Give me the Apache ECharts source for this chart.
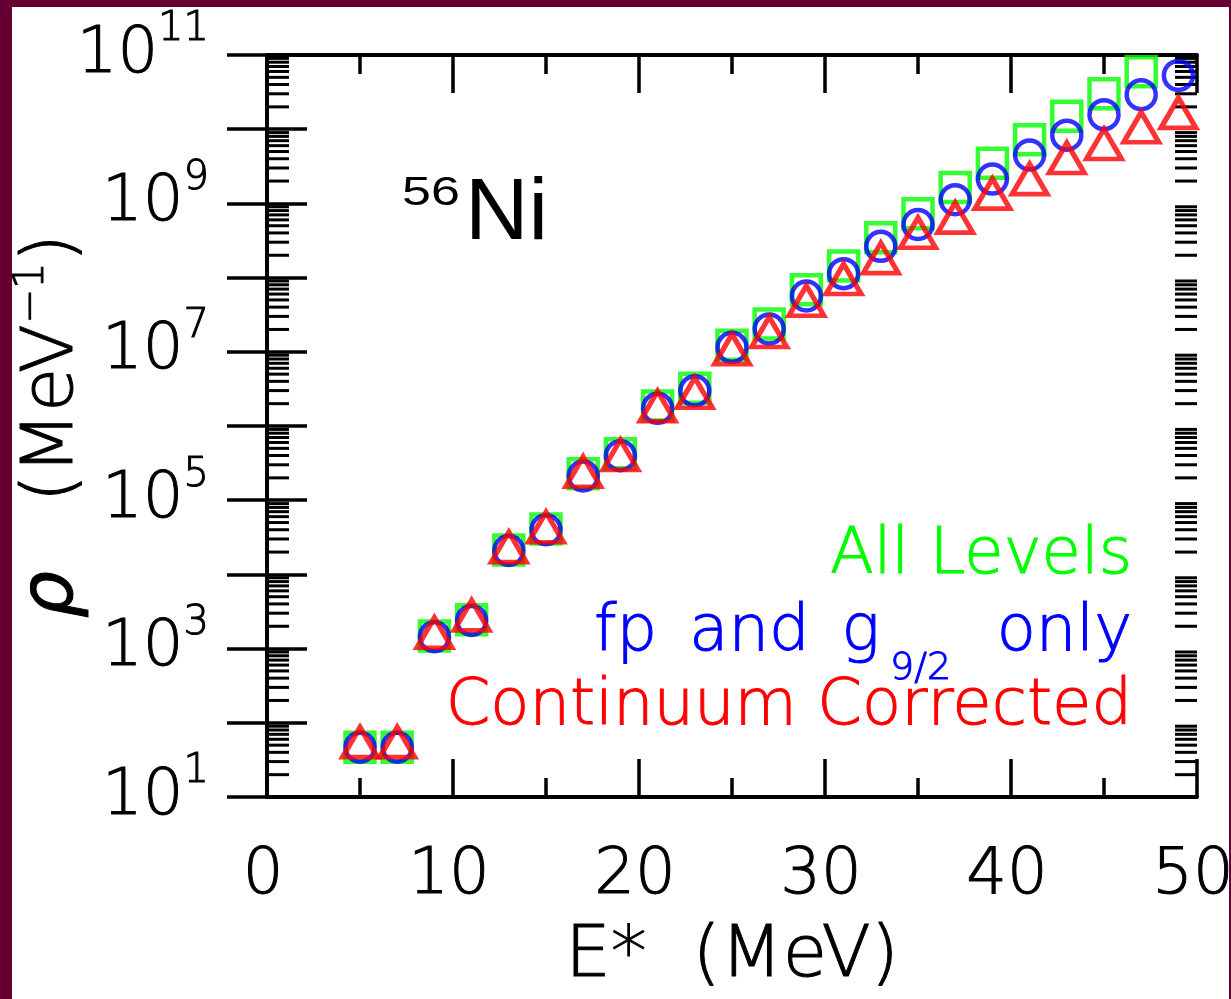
<!DOCTYPE html>
<html>
<head>
<meta charset="utf-8">
<title>56Ni level density</title>
<script src="https://cdn.jsdelivr.net/npm/echarts@6/dist/echarts.min.js"></script>
<style>
  html, body { margin: 0; padding: 0; background: #660033; }
  #chart { position: absolute; left: 12px; top: 7px; width: 1217px; height: 992px; background: #fff; }
</style>
</head>
<body>
<div id="chart"></div>
<script>
// excitation energy E* (MeV)
const energy = [5, 7, 9, 11, 13, 15, 17, 19, 21, 23, 25, 27, 29, 31, 33, 35, 37, 39, 41, 43, 45, 47, 49]

// level density rho (MeV^-1)
const allLevels = [47, 47, 1.48e3, 2.45e3, 2.13e4, 4.1e4, 2.27e5, 4.24e5, 1.86e6, 3.22e6, 1.23e7, 2.37e7,
  6.87e7, 1.43e8, 3.44e8, 7.25e8, 1.64e9, 3.47e9, 7.2e9, 1.49e10, 3.0e10, 5.96e10, 1.2e11]
const fpG92Only = [47, 47, 1.45e3, 2.4e3, 2.1e4, 4.0e4, 2.12e5, 3.98e5, 1.73e6, 2.98e6, 1.15e7, 2.03e7,
  5.65e7, 1.13e8, 2.64e8, 5.2e8, 1.12e9, 2.13e9, 4.49e9, 8.3e9, 1.57e10, 2.92e10, 5.3e10]
const continuumCorrected = [47, 47, 1.4e3, 2.4e3, 2.0e4, 3.7e4, 2.07e5, 3.5e5, 1.58e6, 2.4e6, 9.3e6, 1.58e7,
  4.18e7, 8.2e7, 1.57e8, 3.45e8, 5.5e8, 1.16e9, 1.82e9, 3.5e9, 5.4e9, 9.1e9, 1.42e10]

// axes
const xMin = 0
const xMax = 50
const yMin = 10
const yMax = 1e11
const labelledExponents = [1, 3, 5, 7, 9, 11]
const minorDecades = [1, 2, 3, 4, 5, 6, 7, 8, 9, 10]
const minorMultipliers = [2, 3, 4, 5, 6, 7, 8, 9]

const minorTickData = []
minorDecades.forEach(d => {
  minorMultipliers.forEach(m => minorTickData.push([xMin, m * Math.pow(10, d)]))
})

const font = 'DejaVu Sans'
const thin = 200

const pairs = ys => energy.map((x, i) => [x, ys[i]])

// light text, thickened a little by an outline of the same colour
const txt = (color, size, extra) => ({
  fontFamily: font, fontWeight: thin, fontSize: size, color,
  textBorderColor: color, textBorderWidth: 1, ...extra
})
const gtxt = (text, color, size, extra) => ({
  text, fontFamily: font, fontWeight: thin, fontSize: size,
  fill: color, stroke: color, lineWidth: 1, verticalAlign: 'middle', ...extra
})

const chart = echarts.init(document.getElementById('chart'))

const renderMinorTick = (params, api) => {
  const v = api.value(1)
  const l = api.coord([xMin, v])
  const r = api.coord([xMax, v])
  const len = 22
  const style = { stroke: '#000', lineWidth: 3 }
  return {
    type: 'group',
    children: [
      { type: 'line', shape: { x1: l[0], y1: l[1], x2: l[0] + len, y2: l[1] }, style },
      { type: 'line', shape: { x1: r[0] - len, y1: r[1], x2: r[0], y2: r[1] }, style }
    ]
  }
}

const xAxisBase = {
  type: 'value',
  min: xMin,
  max: xMax,
  interval: 10,
  axisLine: { show: true, lineStyle: { color: '#000', width: 4 } },
  axisTick: { show: true, inside: true, length: 38, lineStyle: { color: '#000', width: 3.5 } },
  minorTick: { show: true, splitNumber: 2, length: 19, lineStyle: { color: '#000', width: 3.5 } },
  splitLine: { show: false }
}

const yAxisBase = {
  type: 'log',
  logBase: 10,
  min: yMin,
  max: yMax,
  interval: 1,
  splitNumber: 10,
  axisLine: { show: true, lineStyle: { color: '#000', width: 4 } },
  axisTick: { show: true, inside: true, length: 40, lineStyle: { color: '#000', width: 3.5 } },
  splitLine: { show: false }
}

chart.setOption({
  animation: false,
  backgroundColor: '#fff',
  grid: { left: 255, top: 48, width: 930, height: 742, containLabel: false, outerBoundsMode: 'none' },
  xAxis: [
    {
      ...xAxisBase,
      position: 'bottom',
      name: 'E*  (MeV)',
      nameLocation: 'middle',
      nameGap: 124,
      nameMoveOverlap: false,
      nameTextStyle: txt('#000', 72, { lineHeight: 72 }),
      axisLabel: { margin: 47, ...txt('#000', 64, { lineHeight: 64 }), padding: [0, 8, 0, 0] }
    },
    { ...xAxisBase, position: 'top', axisLabel: { show: false } }
  ],
  yAxis: [
    {
      ...yAxisBase,
      position: 'left',
      name: '{r|ρ}   {m|(MeV}{s|−1}{m|)}',
      nameLocation: 'middle',
      nameRotate: 90,
      nameGap: 178,
      nameMoveOverlap: false,
      nameTextStyle: {
        ...txt('#000', 72),
        rich: {
          r: { fontFamily: font, fontSize: 74, lineHeight: 72, fontStyle: 'italic', color: '#000' },
          m: txt('#000', 72, { lineHeight: 72 }),
          s: txt('#000', 42, { lineHeight: 42, padding: [0, 0, 42, 0] })
        }
      },
      axisLabel: {
        margin: 58,
        formatter: v => {
          const e = Math.round(Math.log10(v))
          return labelledExponents.includes(e) ? '{b|10}{s|' + e + '}' : ''
        },
        rich: {
          b: txt('#000', 64, { lineHeight: 64 }),
          s: txt('#000', 40, { lineHeight: 40, padding: [0, 0, 50, 0] })
        }
      }
    },
    { ...yAxisBase, position: 'right', axisLabel: { show: false } }
  ],
  graphic: [
    {
      type: 'text',
      x: 390,
      y: 187,
      scaleX: 1.3,
      style: { text: '56', fontFamily: 'Liberation Sans', fontSize: 40, fill: '#000', align: 'left', verticalAlign: 'middle' }
    },
    {
      type: 'text',
      x: 453,
      y: 208,
      style: { text: 'Ni', fontFamily: 'Liberation Sans', fontSize: 88, fill: '#000', align: 'left', verticalAlign: 'middle' }
    },
    { type: 'text', x: 1120, y: 549, style: gtxt('All Levels', '#00ff00', 64, { align: 'right' }) },
    { type: 'text', x: 868, y: 626, style: gtxt('fp\u2002and\u2002g', '#0000ff', 64, { align: 'right' }) },
    { type: 'text', x: 878, y: 662, style: gtxt('9/2', '#0000ff', 38, { align: 'left' }) },
    { type: 'text', x: 1120, y: 626, style: gtxt('only', '#0000ff', 64, { align: 'right' }) },
    { type: 'text', x: 1120, y: 700, style: gtxt('Continuum Corrected', '#ff0000', 64, { align: 'right' }) }
  ],
  series: [
    {
      type: 'custom',
      name: 'minor ticks',
      silent: true,
      clip: false,
      encode: { x: 0, y: 1 },
      renderItem: renderMinorTick,
      data: minorTickData
    },
    {
      type: 'scatter',
      name: 'All Levels',
      symbol: 'rect',
      symbolSize: 29,
      itemStyle: { color: 'rgba(0,0,0,0)', borderColor: '#00ff00', borderWidth: 4.5 },
      data: pairs(allLevels)
    },
    {
      type: 'scatter',
      name: 'fp and g9/2 only',
      symbol: 'circle',
      symbolSize: 29,
      itemStyle: { color: 'rgba(0,0,0,0)', borderColor: '#0000ff', borderWidth: 4.5 },
      data: pairs(fpG92Only)
    },
    {
      type: 'scatter',
      name: 'Continuum Corrected',
      symbol: 'triangle',
      symbolSize: [35, 30],
      symbolOffset: [0, -5],
      itemStyle: { color: 'rgba(0,0,0,0)', borderColor: '#ff0000', borderWidth: 5 },
      data: pairs(continuumCorrected)
    }
  ]
})

window.addEventListener('resize', () => chart.resize())
</script>
</body>
</html>
